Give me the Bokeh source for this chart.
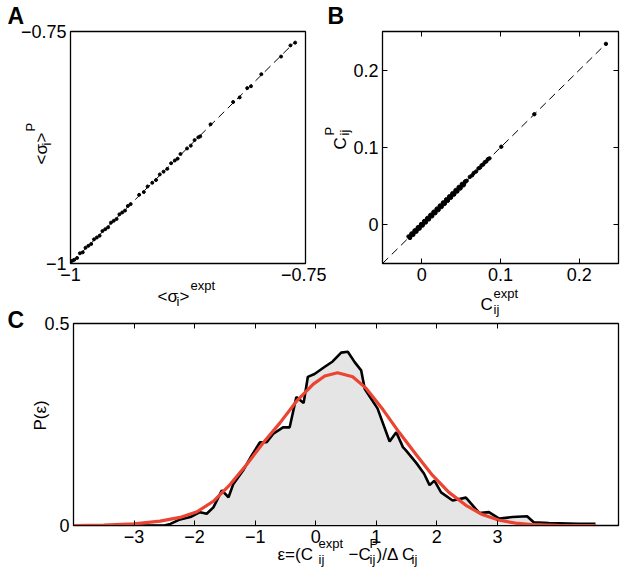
import math
from bokeh.plotting import figure
from bokeh.layouts import column, row
from bokeh.models import Label, FixedTicker, LinearAxis, Range1d
from bokeh.embed import file_html
from bokeh.resources import INLINE

# ---------------- data ----------------
# Panel A : <sigma_i>^expt vs <sigma_i>^P
a_expt = [-0.998, -0.996, -0.993, -0.990, -0.987, -0.984, -0.981, -0.978, -0.975, -0.972,
          -0.969, -0.966, -0.963, -0.960, -0.957, -0.954, -0.951, -0.948, -0.945, -0.942,
          -0.939, -0.936, -0.927, -0.922, -0.918, -0.913, -0.909, -0.905, -0.901, -0.897,
          -0.893, -0.889, -0.886, -0.883, -0.876, -0.872, -0.868, -0.864, -0.862, -0.851,
          -0.827, -0.820, -0.812, -0.808, -0.797, -0.776, -0.766, -0.761]
a_pred = [-0.997, -0.996, -0.994, -0.989, -0.988, -0.983, -0.981, -0.979, -0.974, -0.972,
          -0.970, -0.965, -0.963, -0.961, -0.956, -0.954, -0.952, -0.947, -0.945, -0.943,
          -0.938, -0.936, -0.926, -0.923, -0.917, -0.913, -0.910, -0.904, -0.901, -0.898,
          -0.892, -0.889, -0.887, -0.882, -0.876, -0.873, -0.867, -0.864, -0.863, -0.850,
          -0.826, -0.821, -0.811, -0.809, -0.796, -0.777, -0.765, -0.762]

# Panel B : C_ij^expt vs C_ij^P
b_expt = [-0.017, -0.015, -0.013, -0.011, -0.009, -0.007, -0.005, -0.003, -0.001, 0.001,
          0.003, 0.005, 0.007, 0.009, 0.011, 0.013, 0.015, 0.017, 0.019, 0.021,
          0.023, 0.025, 0.027, 0.029, 0.031, 0.033, 0.035, 0.037, 0.039, 0.041,
          0.043, 0.045, 0.047, 0.049, 0.051, 0.053, 0.055, 0.057,
          0.061, 0.064, 0.066, 0.069, 0.072, 0.074, 0.076, 0.078, 0.080, 0.082,
          0.084, 0.086, 0.101, 0.143, 0.234]
b_pred = [-0.015, -0.017, -0.011, -0.013, -0.007, -0.009, -0.003, -0.005, 0.001, -0.001,
          0.005, 0.003, 0.009, 0.007, 0.013, 0.011, 0.017, 0.015, 0.021, 0.019,
          0.025, 0.023, 0.029, 0.027, 0.033, 0.031, 0.037, 0.035, 0.041, 0.039,
          0.045, 0.043, 0.049, 0.047, 0.053, 0.051, 0.056, 0.057,
          0.062, 0.064, 0.067, 0.069, 0.073, 0.074, 0.077, 0.078, 0.081, 0.082,
          0.085, 0.086, 0.101, 0.143, 0.234]

# Panel C : distribution of normalised errors
eps_hist = [-4.0, -3.0, -2.5, -2.4, -2.24, -2.07, -1.91, -1.8, -1.69, -1.55,
            -1.44, -1.36, -1.2, -1.06, -0.92, -0.81, -0.7, -0.54, -0.43, -0.32,
            -0.2, -0.13, -0.02, 0.15, 0.28, 0.42, 0.53, 0.64, 0.75, 0.81,
            1.02, 1.22, 1.33, 1.44, 1.49, 1.66, 1.79, 1.88, 1.96, 2.07,
            2.26, 2.48, 2.7, 2.86, 3.03, 3.25, 3.49, 3.6, 3.85, 4.34, 4.62]
p_hist = [0.0, 0.0, 0.0, 0.004, 0.015, 0.021, 0.033, 0.029, 0.045, 0.087,
          0.070, 0.103, 0.136, 0.173, 0.206, 0.206, 0.227, 0.243, 0.243, 0.318,
          0.303, 0.368, 0.375, 0.393, 0.406, 0.428, 0.430, 0.405, 0.384, 0.338,
          0.290, 0.208, 0.231, 0.194, 0.186, 0.155, 0.128, 0.100, 0.111, 0.082,
          0.062, 0.069, 0.031, 0.033, 0.017, 0.021, 0.023, 0.008, 0.006, 0.004, 0.004]
eps_fit = [-4.0, -3.5, -3.0, -2.57, -2.24, -1.96, -1.69, -1.41, -1.14, -0.87,
           -0.59, -0.32, -0.04, 0.15, 0.36, 0.61, 0.83, 1.11, 1.38, 1.66,
           1.93, 2.2, 2.48, 2.75, 3.03, 3.3, 3.57, 4.0, 4.62]
p_fit = [0.0, 0.001, 0.004, 0.011, 0.020, 0.034, 0.060, 0.102, 0.151, 0.204,
         0.254, 0.307, 0.350, 0.370, 0.378, 0.368, 0.340, 0.287, 0.230, 0.175,
         0.124, 0.082, 0.050, 0.027, 0.013, 0.006, 0.002, 0.0005, 0.0]

a_range = (-1.0, -0.75)
b_range = (-0.05, 0.25)
c_xrange = (-4.0, 5.0)
c_yrange = (0.0, 0.5)
a_ticks = [-1.0, -0.75]
b_ticks = [0.0, 0.1, 0.2]
c_xticks = [-3, -2, -1, 0, 1, 2, 3]
c_yticks = [0.0, 0.5]

FONT = "Liberation Sans"
RED = "#ec4432"
TICK_PX = 18


def minus(v):
    return ("%g" % v).replace("-", "\u2212")


def style(p):
    p.grid.visible = False
    p.outline_line_color = "black"
    p.outline_line_width = 1.3
    p.background_fill_color = "white"
    p.border_fill_color = None
    for ax in p.axis:
        ax.major_label_text_font = FONT
        ax.major_label_text_font_size = f"{TICK_PX}px"
        ax.major_label_text_color = "black"
        ax.major_tick_in = 5
        ax.major_tick_out = 0
        ax.minor_tick_line_color = None
        ax.axis_line_color = "black"
        ax.major_tick_line_color = "black"
        ax.major_label_standoff = 4


def mirror_axis(p, ticks, side):
    ax = LinearAxis(ticker=FixedTicker(ticks=ticks))
    ax.major_label_overrides = {t: "" for t in ticks}
    ax.major_label_text_font_size = "0px"
    ax.major_label_text_color = None
    ax.major_label_standoff = 0
    ax.major_tick_in = 5
    ax.major_tick_out = 0
    ax.minor_tick_line_color = None
    ax.axis_line_color = None
    ax.major_tick_line_color = "black"
    p.add_layout(ax, side)


# ---------------- panel A ----------------
pA = figure(width=326, height=320, output_backend="svg", toolbar_location=None,
            x_range=Range1d(*a_range), y_range=Range1d(*a_range),
            min_border=0, min_border_left=70, min_border_right=21,
            min_border_top=31, min_border_bottom=54)
pA.xaxis.ticker = FixedTicker(ticks=a_ticks)
pA.yaxis.ticker = FixedTicker(ticks=a_ticks)
pA.xaxis.major_label_overrides = {t: minus(t) for t in a_ticks}
pA.yaxis.major_label_overrides = {t: minus(t) for t in a_ticks}
style(pA)
pA.line([a_range[0], max(a_expt)], [a_range[0], max(a_expt)],
        line_color="black", line_width=1, line_dash="8 5")
pA.scatter(a_expt, a_pred, marker="circle", size=3.0, color="black")

# ---------------- panel B ----------------
pB = figure(width=300, height=320, output_backend="svg", toolbar_location=None,
            x_range=Range1d(*b_range), y_range=Range1d(*b_range),
            min_border=0, min_border_left=56, min_border_right=8,
            min_border_top=29, min_border_bottom=57)
pB.xaxis.ticker = FixedTicker(ticks=b_ticks)
pB.yaxis.ticker = FixedTicker(ticks=b_ticks)
pB.xaxis.major_label_overrides = {t: minus(t) for t in b_ticks}
pB.yaxis.major_label_overrides = {t: minus(t) for t in b_ticks}
style(pB)
mirror_axis(pB, b_ticks, "above")
mirror_axis(pB, b_ticks, "right")
pB.line([b_range[0], max(b_expt)], [b_range[0], max(b_expt)],
        line_color="black", line_width=1, line_dash="8 5")
pB.line(b_expt[:38], b_pred[:38], line_color="black", line_width=4)
pB.scatter(b_expt, b_pred, marker="circle", size=3.4, color="black")

# ---------------- panel C ----------------
pC = figure(width=626, height=260, output_backend="svg", toolbar_location=None,
            x_range=Range1d(*c_xrange), y_range=Range1d(*c_yrange),
            min_border=0, min_border_left=73, min_border_right=8,
            min_border_top=13, min_border_bottom=45)
pC.xaxis.ticker = FixedTicker(ticks=c_xticks)
pC.yaxis.ticker = FixedTicker(ticks=c_yticks)
pC.xaxis.major_label_overrides = {t: minus(t) for t in c_xticks}
pC.yaxis.major_label_overrides = {t: minus(t) for t in c_yticks}
style(pC)
mirror_axis(pC, c_xticks, "above")
pC.varea(x=eps_hist[2:], y1=0, y2=p_hist[2:], fill_color="#e5e5e5")
pC.line(eps_hist, p_hist, line_color="black", line_width=2.6)
pC.line(eps_fit, p_fit, line_color=RED, line_width=3.2)

# ---------------- text overlay (page-pixel coordinates) ----------------
pT = figure(width=626, height=578, output_backend="svg", toolbar_location=None,
            x_range=Range1d(0, 626), y_range=Range1d(578, 0),
            x_axis_location=None, y_axis_location=None, min_border=0)
pT.grid.visible = False
pT.outline_line_color = None
pT.background_fill_color = None
pT.border_fill_color = None

R90 = math.pi / 2


def put(px, py, text, size, bold=False, angle=0.0):
    pT.add_layout(Label(x=px, y=py, text=text, text_font=FONT,
                        text_font_size=f"{size}px",
                        text_font_style="bold" if bold else "normal",
                        angle=angle, text_align="left",
                        text_baseline="alphabetic", text_color="black"))


# panel letters
put(7, 23, "A", 23, bold=True)
put(327, 23, "B", 23, bold=True)
put(7, 327, "C", 23, bold=True)
# panel A labels
put(157, 304, "<σ", 17)
put(176, 309, "i", 13)
put(179, 304, ">", 17)
put(190, 293, "expt", 13)
put(41, 172, "<σ", 17, angle=R90)
put(46, 153, "i", 13, angle=R90)
put(41, 150, ">", 17, angle=R90)
put(30, 139, "P", 13, angle=R90)
# panel B labels
put(480, 312, "C", 17)
put(493, 301, "expt", 13)
put(493, 317, "ij", 13)
put(340, 157, "C", 17, angle=R90)
put(329, 143, "P", 13, angle=R90)
put(344, 143, "ij", 13, angle=R90)
# panel C labels
put(40, 438, "P(ε)", 17, angle=R90)
put(277, 562, "ε=(C", 17)
put(318, 551, "expt", 13)
put(318, 567, "ij", 13)
put(348, 562, "\u2212C", 17)
put(369, 551, "P", 13)
put(369, 567, "ij", 13)
put(376, 562, ")/Δ C", 17)
put(411, 567, "ij", 13)

layout = column(row(pA, pB),
                row(pC, margin=(-10, 0, 0, 0)),
                row(pT, margin=(-578, 0, 0, 0)))
open("out.html", "w").write(file_html(layout, INLINE))
